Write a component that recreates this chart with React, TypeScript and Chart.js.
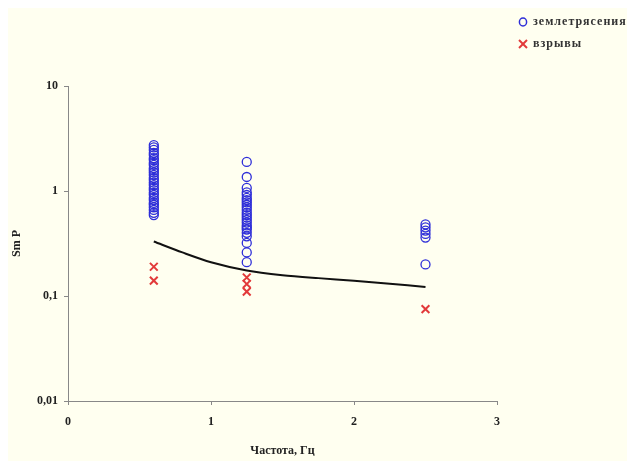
import React, { useEffect, useRef } from 'react';
import { Chart, registerables } from 'chart.js';

Chart.register(...registerables);

// Earthquakes (землетрясения): Sm/P at each frequency
const quakeFreqs = [0.6, 1.25, 2.5];
const quakeAt06 = [2.74, 2.6, 2.46, 2.3, 2.2, 2.05, 1.97, 1.85, 1.77, 1.65, 1.58, 1.5, 1.42, 1.33, 1.27, 1.2, 1.14, 1.07, 1.02, 0.96, 0.92, 0.86, 0.82, 0.77, 0.74, 0.7, 0.66, 0.62, 0.59];
const quakeAt125 = [1.89, 1.36, 1.07, 0.97, 0.92, 0.86, 0.82, 0.78, 0.74, 0.7, 0.66, 0.62, 0.59, 0.56, 0.53, 0.5, 0.47, 0.45, 0.43, 0.4, 0.37, 0.32, 0.26, 0.21];
const quakeAt25 = [0.48, 0.45, 0.42, 0.39, 0.36, 0.2];

// Explosions (взрывы)
const blastAt06 = [0.19, 0.14];
const blastAt125 = [0.15, 0.13, 0.11];
const blastAt25 = [0.075];

// Discriminating curve
const curveFreq = [0.6, 0.8, 1.0, 1.25, 1.5, 1.75, 2.0, 2.25, 2.5];
const curveValue = [0.33, 0.26, 0.21, 0.175, 0.158, 0.148, 0.14, 0.131, 0.122];

const yTickValues = [0.01, 0.1, 1, 10];
const yTickLabels = ['0,01', '0,1', '1', '10'];
const xTickValues = [0, 1, 2, 3];

const legendLabels = ['землетрясения', 'взрывы'];
const xTitle = 'Частота, Гц';
const yTitle = 'Sm P';

const BLUE = '#2e2ed8';
const RED = '#e23a3a';
const FONT = "'Liberation Serif', 'Times New Roman', serif";

function toPoints(x: number, ys: number[]) {
  return ys.map((y) => ({ x, y }));
}

export default function App() {
  const ref = useRef<HTMLCanvasElement | null>(null);

  useEffect(() => {
    if (!ref.current) return;
    const quakes = [
      ...toPoints(quakeFreqs[0], quakeAt06),
      ...toPoints(quakeFreqs[1], quakeAt125),
      ...toPoints(quakeFreqs[2], quakeAt25),
    ];
    const blasts = [
      ...toPoints(quakeFreqs[0], blastAt06),
      ...toPoints(quakeFreqs[1], blastAt125),
      ...toPoints(quakeFreqs[2], blastAt25),
    ];
    const curve = curveFreq.map((x, i) => ({ x, y: curveValue[i] }));
    const tickFont = { family: FONT, size: 12, weight: 'bold' as const };

    const chart = new Chart(ref.current, {
      type: 'scatter',
      data: {
        datasets: [
          {
            label: 'curve',
            data: curve,
            showLine: true,
            borderColor: '#111111',
            borderWidth: 2,
            pointRadius: 0,
            tension: 0.3,
            order: 1,
          },
          {
            label: legendLabels[0],
            data: quakes,
            pointStyle: 'circle',
            pointRadius: 4.5,
            borderColor: BLUE,
            backgroundColor: 'rgba(0,0,0,0)',
            borderWidth: 1.3,
            order: 2,
          },
          {
            label: legendLabels[1],
            data: blasts,
            pointStyle: 'crossRot',
            pointRadius: 5.5,
            borderColor: RED,
            borderWidth: 2,
            order: 3,
          },
        ],
      },
      options: {
        animation: false,
        responsive: false,
        maintainAspectRatio: false,
        layout: { padding: { left: 0, right: 130, top: 78, bottom: 0 } },
        plugins: { legend: { display: false }, tooltip: { enabled: false } },
        scales: {
          x: {
            type: 'linear',
            min: 0,
            max: 3,
            afterFit: (s: any) => {
              s.height = 60;
            },
            afterBuildTicks: (s: any) => {
              s.ticks = xTickValues.map((v) => ({ value: v }));
            },
            grid: { display: true, drawOnChartArea: false, drawTicks: true, tickLength: 4, color: '#888' },
            border: { display: true, color: '#888', width: 1 },
            ticks: { font: tickFont, color: '#222', padding: 10, maxRotation: 0 },
            title: { display: true, text: xTitle, font: tickFont, color: '#222', padding: { top: 0, bottom: 3 } },
          },
          y: {
            type: 'logarithmic',
            min: 0.01,
            max: 10,
            afterFit: (s: any) => {
              s.width = 60;
            },
            afterBuildTicks: (s: any) => {
              s.ticks = yTickValues.map((v) => ({ value: v, major: true }));
            },
            grid: { display: true, drawOnChartArea: false, drawTicks: true, tickLength: 4, color: '#888' },
            border: { display: true, color: '#888', width: 1 },
            ticks: {
              font: tickFont,
              color: '#222',
              padding: 6,
              autoSkip: false,
              callback: (v: any) => {
                const i = yTickValues.indexOf(Number(v));
                return i >= 0 ? yTickLabels[i] : '';
              },
            },
            title: { display: true, text: yTitle, font: tickFont, color: '#222', padding: { top: 2, bottom: 0 } },
          },
        },
      },
    });
    return () => chart.destroy();
  }, []);

  const legendText: React.CSSProperties = {
    position: 'absolute',
    left: 533,
    fontFamily: FONT,
    fontWeight: 'bold',
    fontSize: 12,
    letterSpacing: 1,
    color: '#333',
    whiteSpace: 'nowrap',
    lineHeight: '13px',
  };

  return (
    <div style={{ position: 'absolute', left: 0, top: 0, width: 627, height: 461, overflow: 'hidden', background: '#ffffff' }}>
      <div style={{ position: 'absolute', left: 8, top: 8, width: 619, height: 453, background: '#fffff0' }}>
        <canvas ref={ref} width={619} height={453} style={{ display: 'block', width: 619, height: 453 }} />
      </div>
      <svg style={{ position: 'absolute', left: 518, top: 17 }} width={10} height={10}>
        <ellipse cx={5} cy={5} rx={3.6} ry={4} fill="none" stroke={BLUE} strokeWidth={1.5} />
      </svg>
      <div style={{ ...legendText, top: 15 }}>{legendLabels[0]}</div>
      <svg style={{ position: 'absolute', left: 518, top: 39 }} width={10} height={10}>
        <line x1={1} y1={1} x2={9} y2={9} stroke={RED} strokeWidth={2} />
        <line x1={9} y1={1} x2={1} y2={9} stroke={RED} strokeWidth={2} />
      </svg>
      <div style={{ ...legendText, top: 37 }}>{legendLabels[1]}</div>
    </div>
  );
}
